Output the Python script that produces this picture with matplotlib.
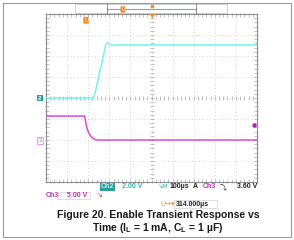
import numpy as np
import matplotlib
matplotlib.use('Agg')
import matplotlib.pyplot as plt
from matplotlib.patches import Rectangle
from matplotlib.lines import Line2D

# scope settings
ch2_scale = 2.0      # V/div
ch3_scale = 5.0      # V/div
ch2_ground = 4.0     # div from bottom
ch3_ground = 2.0
trig_time = 190      # us on screen
trig_level = 3.6     # V

# Ch2 (Vout), time in us
ch2_t = [0, 222, 228, 236, 246, 256, 266, 276, 283, 290, 298, 308, 318, 330, 1000]
ch2_v = [0, 0, 0.15, 0.8, 1.7, 2.6, 3.5, 4.4, 5.1, 5.24, 5.22, 5.08, 5.0, 5.05, 5.05]

# Ch3 (EN)
ch3_t = [0, 183, 186, 190, 195, 200, 208, 218, 230, 242, 1000]
ch3_v = [5.7, 5.7, 4.9, 3.7, 2.7, 2.0, 1.2, 0.6, 0.2, 0, 0]

CYAN = '#6ff3f3'
MAGENTA = '#e046e0'
TEAL = '#2a9d9d'
ORANGE = '#f08a24'
GRID = '#a8a8a8'

W, H = 294, 240


def fx(x):
    return x / float(W)


def fy(y):
    return 1 - y / float(H)


plt.rcParams['font.family'] = ['Liberation Sans', 'DejaVu Sans']
fig = plt.figure(figsize=(2.94, 2.40), dpi=100)
fig.patch.set_facecolor('white')

# outer frame of the screenshot
fig.add_artist(Rectangle((fx(3), fy(237)), fx(288), 234 / float(H), transform=fig.transFigure,
                         fill=False, ec='#9a9a9a', lw=0.8))

# top record bar
fig.add_artist(Rectangle((fx(75), fy(13)), fx(152), 9 / float(H), transform=fig.transFigure,
                         fill=False, ec='#c8c8c8', lw=0.6))
fig.add_artist(Line2D([fx(107), fx(196)], [fy(9), fy(9)], transform=fig.transFigure,
                      color='#5fb8a8', lw=0.8))
fig.add_artist(Line2D([fx(107), fx(107)], [fy(4), fy(13)], transform=fig.transFigure,
                      color='#777777', lw=0.6))
fig.add_artist(Line2D([fx(196), fx(196)], [fy(4), fy(13)], transform=fig.transFigure,
                      color='#777777', lw=0.6))
fig.text(fx(123), fy(9.5), 'U', color='white', fontsize=3.5, ha='center', va='center',
         bbox=dict(boxstyle='round,pad=0.15', fc=ORANGE, ec='none'))
fig.add_artist(Line2D([fx(152)], [fy(6)], transform=fig.transFigure, marker='s',
                      ms=1.5, color=ORANGE, lw=0))

ax = fig.add_axes([fx(46), fy(182), 211 / float(W), 168 / float(H)])
ax.set_xlim(0, 1000)
ax.set_ylim(0, 8)
ax.set_xticks([])
ax.set_yticks([])
for s in ax.spines.values():
    s.set_color('#8c8c8c')
    s.set_linewidth(0.8)

# graticule
for i in range(1, 10):
    ax.axvline(i * 100, color=GRID, lw=0.5, ls=(0, (1, 4)))
for j in range(1, 8):
    ax.axhline(j, color=GRID, lw=0.5, ls=(0, (1, 4)))
minor_x = np.arange(0, 1001, 20)
minor_y = np.arange(0, 8.01, 0.2)
ax.plot(minor_x, np.full_like(minor_x, 4.0, dtype=float), '|', color=GRID, ms=2.5, mew=0.5)
ax.plot(np.full_like(minor_y, 500.0), minor_y, '_', color=GRID, ms=2.5, mew=0.5)
ax.plot(minor_x, np.zeros_like(minor_x, dtype=float) + 0.06, '|', color=GRID, ms=2.5, mew=0.5, clip_on=False)
ax.plot(minor_x, np.zeros_like(minor_x, dtype=float) + 7.94, '|', color=GRID, ms=2.5, mew=0.5, clip_on=False)
ax.plot(np.zeros_like(minor_y) + 6, minor_y, '_', color=GRID, ms=2.5, mew=0.5, clip_on=False)
ax.plot(np.zeros_like(minor_y) + 994, minor_y, '_', color=GRID, ms=2.5, mew=0.5, clip_on=False)

# traces
ax.plot(ch2_t, ch2_ground + np.array(ch2_v) / ch2_scale, color=CYAN, lw=1.1, zorder=5)
ax.plot(ch3_t, ch3_ground + np.array(ch3_v) / ch3_scale, color=MAGENTA, lw=1.1, zorder=5)

# channel ground markers
ax.text(-20, ch2_ground, '2', color='white', fontsize=4.5, fontweight='bold', ha='right', va='center',
        bbox=dict(boxstyle='square,pad=0.15', fc=TEAL, ec='none'), clip_on=False)
ax.text(-20, ch3_ground - 0.03, '3', color=MAGENTA, fontsize=4.5, ha='right', va='center',
        bbox=dict(boxstyle='square,pad=0.15', fc='white', ec=MAGENTA, lw=0.4), clip_on=False)

# trigger markers
ax.text(trig_time, 7.7, 'U', color='white', fontsize=4, ha='center', va='center',
        bbox=dict(boxstyle='round,pad=0.15', fc=ORANGE, ec='none'))
ax.plot([500], [7.97], 'v', color=ORANGE, ms=2.5, clip_on=False, zorder=6)
ax.plot([985], [ch3_ground + trig_level / ch3_scale], 'o', color='#b020b0', ms=2.2, zorder=6)

# readouts
fs = 5
sym = ['DejaVu Sans', 'Noto Sans', 'DejaVu Sans Mono', 'Noto Sans CJK SC']
fig.text(fx(101), fy(187), 'Ch2', color='#bff5f5', fontsize=fs, fontweight='bold', va='center',
         bbox=dict(boxstyle='square,pad=0.1', fc=TEAL, ec='none'))
fig.text(fx(122), fy(187), '2.00 V', color='#2fb3b3', fontsize=fs, fontweight='bold', va='center')
fig.text(fx(157), fy(187), '↘M', color='#2fb3b3', fontsize=fs - 0.5, va='center', family=sym)
fig.text(fx(170), fy(187), '100µs', color='#222222', fontsize=fs, fontweight='bold', va='center')
fig.text(fx(193), fy(187), 'A', color='#222222', fontsize=fs, fontweight='bold', va='center')
fig.text(fx(203), fy(187), 'Ch3', color='#c030c0', fontsize=fs, fontweight='bold', va='center')
fig.text(fx(220), fy(187), '⤵', color='#222222', fontsize=fs, va='center', family=sym)
fig.text(fx(257), fy(187), '3.60 V', color='#222222', fontsize=fs, fontweight='bold', va='center', ha='right')

fig.text(fx(46), fy(195.5), 'Ch3', color='#c030c0', fontsize=fs, fontweight='bold', va='center')
fig.add_artist(Rectangle((fx(58), fy(199)), fx(32), 7 / float(H), transform=fig.transFigure,
                         fill=False, ec='#d0d0d0', lw=0.5))
fig.text(fx(67), fy(195.5), '5.00 V', color='#c030c0', fontsize=fs, fontweight='bold', va='center')
fig.text(fx(97), fy(195.5), '↘', color='#c030c0', fontsize=fs, va='center', family=sym)

fig.text(fx(160), fy(204), 'U→▾', color=ORANGE, fontsize=fs, va='center', family=sym)
fig.add_artist(Rectangle((fx(174), fy(208)), fx(43), 8 / float(H), transform=fig.transFigure,
                         fill=False, ec='#d0d0d0', lw=0.5))
fig.text(fx(176), fy(204), '314.000µs', color='#222222', fontsize=fs, fontweight='bold', va='center')

# caption
fig.text(fx(158), fy(215), 'Figure 20. Enable Transient Response vs', fontsize=7.5,
         fontweight='bold', ha='center', va='center', color='#1a1a1a')
fig.text(fx(158), fy(228), 'Time (I$_\\mathregular{L}$ = 1 mA, C$_\\mathregular{L}$ = 1 µF)',
         fontsize=7.5, fontweight='bold', ha='center', va='center', color='#1a1a1a')

fig.savefig('out.png', dpi=100)
